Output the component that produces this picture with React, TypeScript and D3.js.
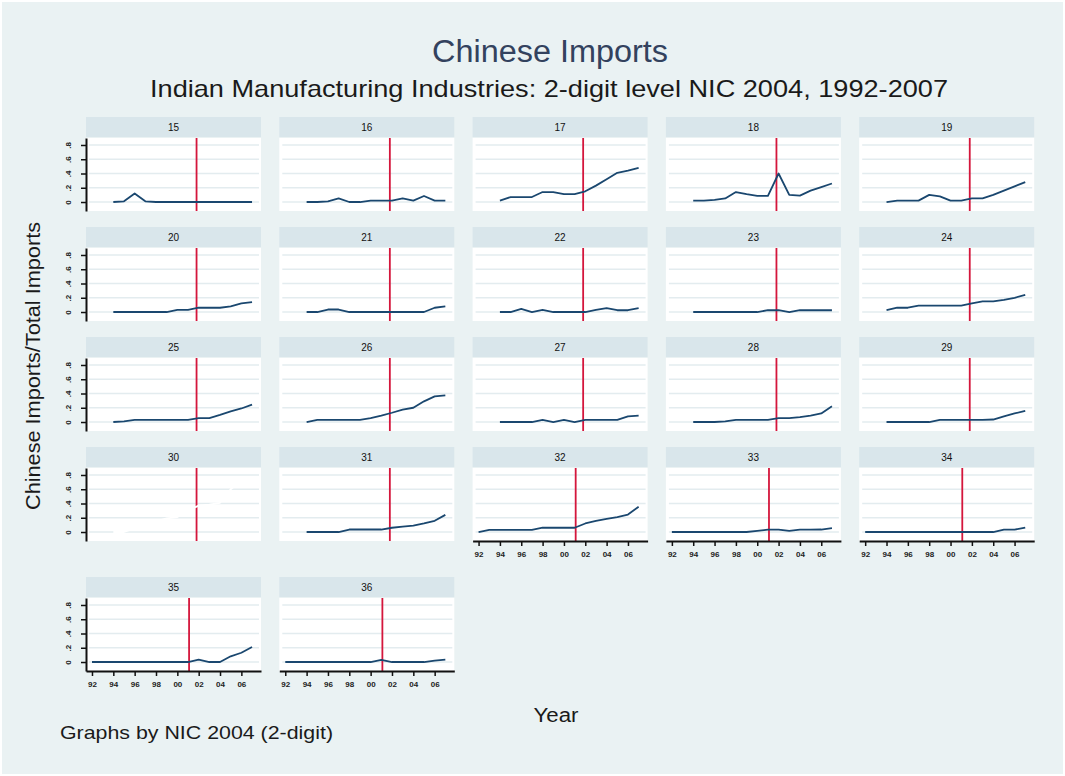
import React, { useEffect, useRef } from 'react';
import * as d3 from 'd3';

const W = 1065;
const H = 776;

// NIC 2004 2-digit industries, in panel order
const panelIds = ['15', '16', '17', '18', '19', '20', '21', '22', '23', '24', '25', '26', '27', '28', '29', '30', '31', '32', '33', '34', '35', '36'];

const yearsFrom94 = [1994, 1995, 1996, 1997, 1998, 1999, 2000, 2001, 2002, 2003, 2004, 2005, 2006, 2007];
const yearsFrom92 = [1992, 1993, 1994, 1995, 1996, 1997, 1998, 1999, 2000, 2001, 2002, 2003, 2004, 2005, 2006, 2007];

// Chinese imports / total imports
const s15 = [0, 0.01, 0.12, 0.01, 0, 0, 0, 0, 0, 0, 0, 0, 0, 0];
const s16 = [0, 0, 0.01, 0.05, 0, 0, 0.02, 0.02, 0.02, 0.05, 0.02, 0.085, 0.02, 0.02];
const s17 = [0.02, 0.07, 0.07, 0.07, 0.14, 0.14, 0.11, 0.11, 0.15, 0.23, 0.32, 0.41, 0.44, 0.48];
const s18 = [0.02, 0.02, 0.03, 0.05, 0.14, 0.11, 0.085, 0.085, 0.4, 0.1, 0.09, 0.16, 0.21, 0.26];
const s19 = [0, 0.02, 0.02, 0.02, 0.1, 0.08, 0.02, 0.02, 0.05, 0.05, 0.1, 0.16, 0.22, 0.28];
const s20 = [0, 0, 0, 0, 0, 0, 0.03, 0.03, 0.06, 0.06, 0.06, 0.08, 0.12, 0.14];
const s21 = [0, 0, 0.035, 0.035, 0, 0, 0, 0, 0, 0, 0, 0, 0.06, 0.08];
const s22 = [0, 0, 0.045, 0, 0.03, 0, 0, 0, 0, 0.03, 0.055, 0.025, 0.025, 0.055];
const s23 = [0, 0, 0, 0, 0, 0, 0, 0.025, 0.025, 0, 0.025, 0.025, 0.025, 0.025];
const s24 = [0.025, 0.06, 0.06, 0.09, 0.09, 0.09, 0.09, 0.09, 0.12, 0.15, 0.15, 0.17, 0.2, 0.24];
const s25 = [0, 0.01, 0.03, 0.03, 0.03, 0.03, 0.03, 0.03, 0.055, 0.055, 0.1, 0.15, 0.19, 0.245];
const s26 = [0, 0.03, 0.03, 0.03, 0.03, 0.03, 0.055, 0.09, 0.13, 0.175, 0.2, 0.29, 0.36, 0.375];
const s27 = [0, 0, 0, 0, 0.03, 0, 0.03, 0, 0.03, 0.03, 0.03, 0.03, 0.08, 0.09];
const s28 = [0, 0, 0, 0.01, 0.03, 0.03, 0.03, 0.03, 0.055, 0.055, 0.07, 0.09, 0.12, 0.22];
const s29 = [0, 0, 0, 0, 0, 0.03, 0.03, 0.03, 0.03, 0.03, 0.035, 0.08, 0.12, 0.155];
const s30 = [0, 0, 0.05, 0.1, 0.15, 0.19, 0.21, 0.3, 0.37, 0.385, 0.41, 0.6, 0.72, 0.76];
const s31 = [0, 0, 0, 0, 0.035, 0.035, 0.035, 0.035, 0.06, 0.075, 0.09, 0.12, 0.157, 0.24];
const s32 = [0, 0.03, 0.03, 0.03, 0.03, 0.03, 0.06, 0.06, 0.06, 0.06, 0.12, 0.155, 0.185, 0.21, 0.245, 0.355];
const s33 = [0, 0, 0, 0, 0, 0, 0, 0, 0.015, 0.033, 0.033, 0.015, 0.033, 0.033, 0.035, 0.055];
const s34 = [0, 0, 0, 0, 0, 0, 0, 0, 0, 0, 0, 0, 0, 0.033, 0.033, 0.062];
const s35 = [0, 0, 0, 0, 0, 0, 0, 0, 0, 0, 0.033, 0, 0, 0.08, 0.13, 0.21];
const s36 = [0, 0, 0, 0, 0, 0, 0, 0, 0, 0.03, 0, 0, 0, 0, 0.02, 0.033];

const seriesById: Record<string, number[]> = {
  '15': s15, '16': s16, '17': s17, '18': s18, '19': s19, '20': s20, '21': s21, '22': s22,
  '23': s23, '24': s24, '25': s25, '26': s26, '27': s27, '28': s28, '29': s29, '30': s30,
  '31': s31, '32': s32, '33': s33, '34': s34, '35': s35, '36': s36,
};

// panels whose series starts in 1992
const fullSpanIds = ['32', '33', '34', '35', '36'];
// panel drawn with an invisible (white) line
const whiteLineIds = ['30'];

// vertical reference line (year)
const vlineUpper = 2001.8;
const vlineBottom = 2001.1;

const yTicks = [0, 0.2, 0.4, 0.6, 0.8];
const yTickLabels = ['0', '.2', '.4', '.6', '.8'];
const xTicks = [1992, 1994, 1996, 1998, 2000, 2002, 2004, 2006];
const xTickLabels = ['92', '94', '96', '98', '00', '02', '04', '06'];

const FONT = "'Liberation Sans', Arial, Helvetica, sans-serif";

const App: React.FC = () => {
  const svgRef = useRef<SVGSVGElement>(null);

  useEffect(() => {
    if (!svgRef.current) return;
    const svg = d3.select(svgRef.current);
    svg.selectAll('*').remove();

    // Background
    svg.append('rect').attr('width', W).attr('height', H).attr('fill', '#ffffff');
    svg
      .append('rect')
      .attr('x', 2)
      .attr('y', 2)
      .attr('width', W - 4)
      .attr('height', H - 4)
      .attr('fill', '#eaf2f3');

    // Titles
    svg
      .append('text')
      .attr('x', 550)
      .attr('y', 62)
      .attr('text-anchor', 'middle')
      .attr('textLength', 236)
      .attr('lengthAdjust', 'spacingAndGlyphs')
      .style('font-family', FONT)
      .style('font-size', '31px')
      .style('fill', '#33425e')
      .text('Chinese Imports');

    svg
      .append('text')
      .attr('x', 549)
      .attr('y', 97)
      .attr('text-anchor', 'middle')
      .attr('textLength', 798)
      .attr('lengthAdjust', 'spacingAndGlyphs')
      .style('font-family', FONT)
      .style('font-size', '24px')
      .style('fill', '#1a1a1a')
      .text('Indian Manufacturing Industries: 2-digit level NIC 2004, 1992-2007');

    // Axis titles and note
    svg
      .append('text')
      .attr('transform', 'translate(40,366) rotate(-90)')
      .attr('text-anchor', 'middle')
      .attr('textLength', 288)
      .attr('lengthAdjust', 'spacingAndGlyphs')
      .style('font-family', FONT)
      .style('font-size', '20px')
      .style('fill', '#1a1a1a')
      .text('Chinese Imports/Total Imports');

    svg
      .append('text')
      .attr('x', 556)
      .attr('y', 722)
      .attr('text-anchor', 'middle')
      .attr('textLength', 45)
      .attr('lengthAdjust', 'spacingAndGlyphs')
      .style('font-family', FONT)
      .style('font-size', '20px')
      .style('fill', '#1a1a1a')
      .text('Year');

    svg
      .append('text')
      .attr('x', 60)
      .attr('y', 739)
      .attr('textLength', 273)
      .attr('lengthAdjust', 'spacingAndGlyphs')
      .style('font-family', FONT)
      .style('font-size', '19px')
      .style('fill', '#1a1a1a')
      .text('Graphs by NIC 2004 (2-digit)');

    // Panel layout
    const nCols = 5;
    const colLeft0 = 86;
    const colPitch = 193.3;
    const panelW = 175;
    const rowTop0 = 117;
    const rowPitch = 110;
    const axisSpace = 20;
    const stripH = 20;
    const plotH = 73;

    const x = d3.scaleLinear().domain([1991.44, 2007.84]).range([0, panelW]);
    const y = d3.scaleLinear().domain([-0.126, 0.898]).range([plotH, 0]);

    panelIds.forEach((id, i) => {
      const col = i % nCols;
      const row = Math.floor(i / nCols);
      const hasXAxis = i + nCols >= panelIds.length;
      const hasYAxis = col === 0;
      const left = colLeft0 + col * colPitch;
      const top = rowTop0 + row * rowPitch + (row >= 4 ? axisSpace : 0);

      const g = svg.append('g').attr('transform', `translate(${left},${top})`);

      // strip
      g.append('rect').attr('width', panelW).attr('height', stripH).attr('fill', '#d9e6eb');
      g.append('text')
        .attr('x', panelW / 2)
        .attr('y', stripH / 2 + 4)
        .attr('text-anchor', 'middle')
        .style('font-family', FONT)
        .style('font-size', '10px')
        .style('fill', '#111')
        .text(id);

      const p = g.append('g').attr('transform', `translate(0,${stripH + 1})`);
      p.append('rect').attr('width', panelW).attr('height', plotH).attr('fill', '#ffffff');

      // grid
      p.selectAll('line.grid')
        .data(yTicks)
        .enter()
        .append('line')
        .attr('class', 'grid')
        .attr('x1', 3)
        .attr('x2', panelW - 2)
        .attr('y1', (d) => y(d))
        .attr('y2', (d) => y(d))
        .attr('stroke', '#e3ecef')
        .attr('stroke-width', 1.3);

      // reference line
      const vx = x(hasXAxis ? vlineBottom : vlineUpper);
      p.append('line')
        .attr('x1', vx)
        .attr('x2', vx)
        .attr('y1', 0)
        .attr('y2', plotH)
        .attr('stroke', '#d4163c')
        .attr('stroke-width', 1.8);

      // series
      const values = seriesById[id];
      const years = fullSpanIds.includes(id) ? yearsFrom92 : yearsFrom94;
      const line = d3
        .line<number>()
        .x((d, k) => x(years[k]))
        .y((d) => y(d));
      p.append('path')
        .attr('d', line(values) || '')
        .attr('fill', 'none')
        .attr('stroke', whiteLineIds.includes(id) ? '#ffffff' : '#1a476f')
        .attr('stroke-width', 1.8)
        .attr('stroke-linejoin', 'round');

      if (hasYAxis) {
        const ya = p
          .append('g')
          .call(
            d3
              .axisLeft(y)
              .tickValues(yTicks)
              .tickFormat((d, k) => yTickLabels[k])
              .tickSize(5)
              .tickSizeOuter(0),
          );
        ya.select('.domain').attr('stroke', '#111').attr('stroke-width', 2);
        ya.selectAll('.tick line').attr('stroke', '#111').attr('stroke-width', 1.5);
        ya.selectAll('.tick text')
          .attr('x', null)
          .attr('dy', null)
          .attr('transform', 'translate(-18,0) rotate(-90)')
          .attr('text-anchor', 'middle')
          .attr('dominant-baseline', 'central')
          .style('font-family', FONT)
          .style('font-size', '8px')
          .style('font-weight', 'bold')
          .style('fill', '#222');
      }

      if (hasXAxis) {
        const xa = p
          .append('g')
          .attr('transform', `translate(0,${plotH})`)
          .call(
            d3
              .axisBottom(x)
              .tickValues(xTicks)
              .tickFormat((d, k) => xTickLabels[k])
              .tickSize(5)
              .tickPadding(5)
              .tickSizeOuter(0),
          );
        xa.select('.domain').attr('stroke', '#111').attr('stroke-width', 2);
        xa.selectAll('.tick line').attr('stroke', '#111').attr('stroke-width', 1.5);
        xa.selectAll('.tick text')
          .style('font-family', FONT)
          .style('font-size', '8px')
          .style('font-weight', 'bold')
          .style('fill', '#222');
      }
    });
  }, []);

  return (
    <svg
      ref={svgRef}
      width={W}
      height={H}
      style={{ position: 'absolute', left: 0, top: 0, display: 'block' }}
    />
  );
};

export default App;
